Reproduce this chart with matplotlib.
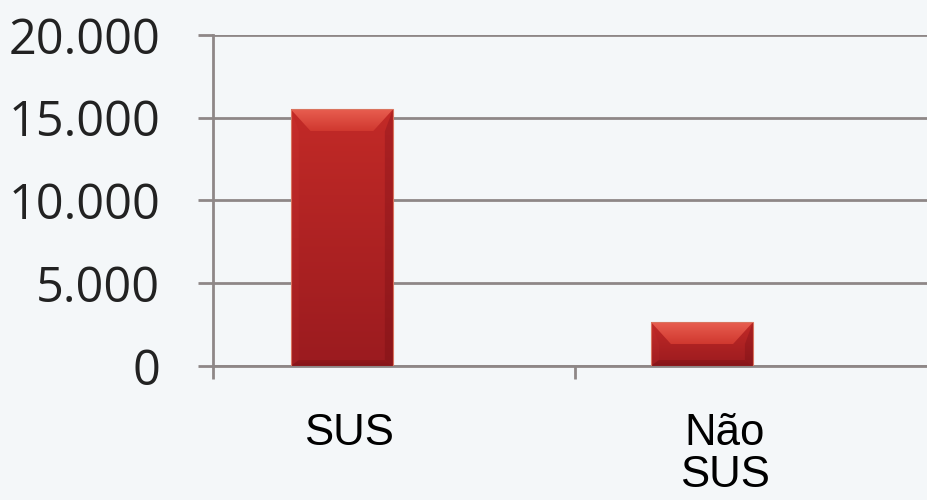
import matplotlib
matplotlib.use('Agg')
import matplotlib.pyplot as plt
import numpy as np
from matplotlib.ticker import FuncFormatter, FixedLocator
from matplotlib.patches import Polygon
from matplotlib.colors import LinearSegmentedColormap
import matplotlib.transforms as mtransforms

categories = ['SUS', 'Não\nSUS']
values = [15500, 2650]
y_ticks = [0, 5000, 10000, 15000, 20000]

BG = '#F4F7F9'
GRID = '#8E8787'

fig = plt.figure(figsize=(9.27, 5.0), dpi=100, facecolor=BG)
ax = fig.add_axes([213 / 927, 134 / 500, (940 - 213) / 927, 331 / 500])
ax.set_facecolor(BG)

x = np.arange(len(categories))
bar_w = 0.283
bars = ax.bar(x, values, width=bar_w, color='#B3221F', zorder=3,
              edgecolor='none')
XLIM = (-0.358, 1.661)
YLIM = (0, 20000)
ax.set_xlim(*XLIM)
ax.set_ylim(*YLIM)

# px per data unit
ax_w_px = (940 - 213)
ax_h_px = 331
sx = ax_w_px / (XLIM[1] - XLIM[0])
sy = ax_h_px / (YLIM[1] - YLIM[0])


def grad_fill(poly_xy, c_top, c_bot, x0, x1, y0, y1, z):
    poly = Polygon(poly_xy, closed=True, facecolor='none', edgecolor='none',
                   transform=ax.transData)
    ax.add_patch(poly)
    cmap = LinearSegmentedColormap.from_list('g', [c_bot, c_top])
    arr = np.linspace(0, 1, 64).reshape(-1, 1)
    im = ax.imshow(arr, cmap=cmap, extent=[x0, x1, y0, y1], origin='lower',
                   aspect='auto', zorder=z, interpolation='bicubic')
    im.set_clip_path(poly)


for b in bars:
    x0 = b.get_x()
    x1 = x0 + b.get_width()
    y0 = 0
    y1 = b.get_height()
    b.set_visible(False)
    dx = 20 / sx
    dyt = 22 / sy
    dyb = 6 / sy
    # main face
    grad_fill([(x0, y0), (x1, y0), (x1, y1), (x0, y1)],
              '#C22A27', '#9B1B1F', x0, x1, y0, y1, 3)
    # left bevel
    grad_fill([(x0, y0), (x0 + dx * 0.4, y0 + dyb), (x0 + dx * 0.4, y1 - dyt),
               (x0, y1)], '#C62D2A', '#A01D20', x0, x1, y0, y1, 4)
    # right bevel
    grad_fill([(x1, y0), (x1 - dx * 0.4, y0 + dyb), (x1 - dx * 0.4, y1 - dyt),
               (x1, y1)], '#AC2123', '#8C161A', x0, x1, y0, y1, 4)
    # bottom bevel
    grad_fill([(x0, y0), (x1, y0), (x1 - dx * 0.4, y0 + dyb),
               (x0 + dx * 0.4, y0 + dyb)], '#921719', '#84141A',
              x0, x1, y0, y0 + dyb, 4)
    # top bevel
    grad_fill([(x0, y1), (x1, y1), (x1 - dx, y1 - dyt), (x0 + dx, y1 - dyt)],
              '#E85E50', '#D0382F', x0, x1, y1 - dyt, y1, 5)
    # thin light outline
    ax.add_patch(Polygon([(x0, y0), (x1, y0), (x1, y1), (x0, y1)], closed=True,
                         facecolor='none', edgecolor='#D9745F', lw=0.8,
                         zorder=6))

ax.set_xlim(*XLIM)
ax.set_ylim(*YLIM)

# grid and spines
ax.yaxis.set_major_locator(FixedLocator(y_ticks))
ax.yaxis.set_major_formatter(FuncFormatter(
    lambda v, p: f"{int(v):,}".replace(',', '.')))
ax.grid(axis='y', color=GRID, lw=2.0, zorder=1)
ax.set_axisbelow(True)
for s in ['top', 'right']:
    ax.spines[s].set_visible(False)
for s in ['left', 'bottom']:
    ax.spines[s].set_color(GRID)
    ax.spines[s].set_linewidth(2.0)
    ax.spines[s].set_zorder(2)

ax.tick_params(axis='y', length=11, width=2, color=GRID, pad=27,
               labelsize=35, labelcolor='#222222')
for lab in ax.get_yticklabels():
    lab.set_family(['Open Sans', 'DejaVu Sans'])

ax.set_xticks(x)
ax.set_xticklabels(categories, family=['Liberation Sans', 'DejaVu Sans'],
                   fontsize=31.5, color='#000000', linespacing=1.02)
ax.tick_params(axis='x', which='major', length=0, pad=34)
for lab, off_px in zip(ax.get_xticklabels(), [7, 23]):
    offset = mtransforms.ScaledTranslation(off_px / 100, 0, fig.dpi_scale_trans)
    lab.set_transform(lab.get_transform() + offset)
ax.set_xticks([XLIM[0], 0.647], minor=True)
ax.tick_params(axis='x', which='minor', length=9, width=2, color=GRID,
               direction='out')

fig.savefig('out.png', dpi=100, facecolor=BG)
